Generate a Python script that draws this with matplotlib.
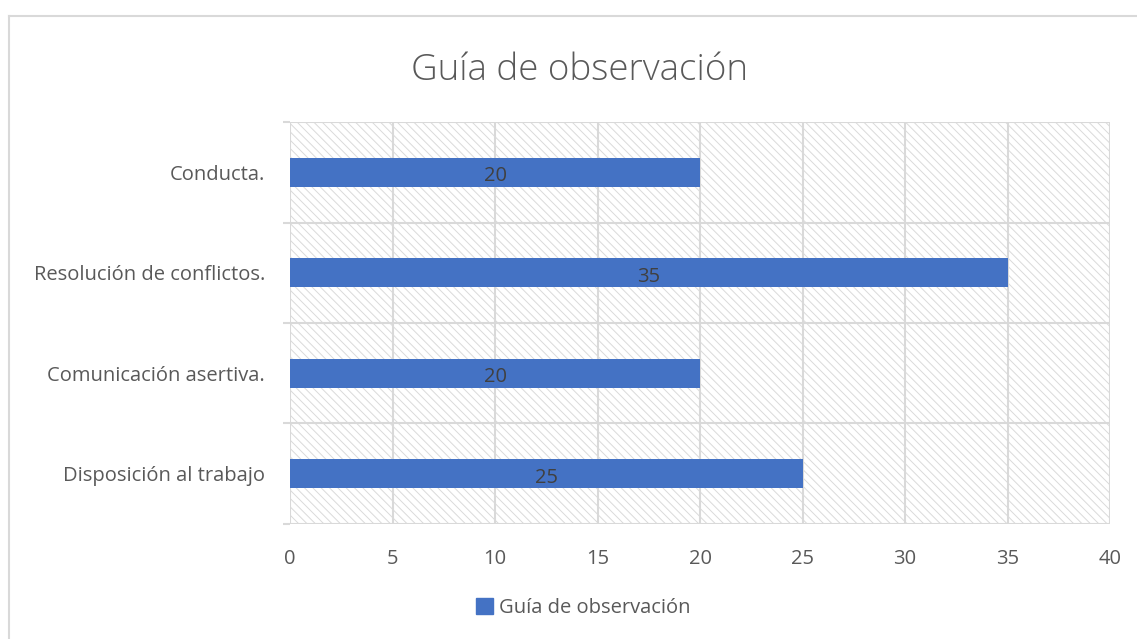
import matplotlib.pyplot as plt
from matplotlib.patches import Rectangle
from matplotlib.lines import Line2D

plt.rcParams['font.family'] = ['Open Sans', 'DejaVu Sans']
plt.rcParams['hatch.linewidth'] = 0.7

# data
categories = ['Disposición al trabajo', 'Comunicación asertiva.',
              'Resolución de conflictos.', 'Conducta.']
values = [25, 20, 35, 20]
x_ticks = [0, 5, 10, 15, 20, 25, 30, 35, 40]
series_name = 'Guía de observación'

bar_color = '#4472C4'
text_color = '#595959'
grid_color = '#d9d9d9'

fig = plt.figure(figsize=(11.37, 6.39), dpi=100)
ax = fig.add_axes([0.2551, 0.18, 0.7212, 0.629])

# chart border (left and top visible)
fig.add_artist(Line2D([9 / 1137, 9 / 1137], [0, 1 - 16 / 639],
                      transform=fig.transFigure, color=grid_color, lw=1.5))
fig.add_artist(Line2D([9 / 1137, 1], [1 - 16 / 639, 1 - 16 / 639],
                      transform=fig.transFigure, color=grid_color, lw=1.5))

# hatched plot background
ax.add_patch(Rectangle((0, 0), 1, 1, transform=ax.transAxes, facecolor='white',
                       edgecolor='#dadada', hatch='\\\\\\\\', lw=0, zorder=0))

y = list(range(len(categories)))
bars = ax.barh(y, values, height=0.29, color=bar_color, zorder=3)
for yi, v in zip(y, values):
    ax.text(v / 2, yi - 0.04, str(v), ha='center', va='center',
            fontsize=14.5, color='#404040', zorder=4)

ax.set_xlim(0, 40)
ax.set_ylim(-0.5, len(categories) - 0.5)
ax.set_xticks(x_ticks)
ax.set_yticks(y)
ax.set_yticklabels(categories)
ax.set_yticks([i - 0.5 for i in range(len(categories) + 1)], minor=True)

ax.tick_params(axis='x', length=0, labelsize=14.5, labelcolor=text_color, pad=18)
ax.tick_params(axis='y', which='major', length=0, labelsize=14.5,
               labelcolor=text_color, pad=18)
ax.tick_params(axis='y', which='minor', length=5, color=grid_color, width=1.5)

ax.grid(axis='x', which='major', color=grid_color, lw=1.5, zorder=1)
ax.grid(axis='y', which='minor', color=grid_color, lw=1.5, zorder=1)
ax.set_axisbelow(True)
for s in ax.spines.values():
    s.set_visible(False)

fig.text(0.51, 1 - 70 / 639, 'Guía de observación', ha='center', va='center',
         fontsize=26.5, color=text_color, fontweight='light')

fig.legend([Rectangle((0, 0), 1, 1, color=bar_color)], [series_name],
           loc='center', bbox_to_anchor=(0.513, 1 - 608 / 639), frameon=False,
           fontsize=14.5, labelcolor=text_color, handlelength=0.8,
           handleheight=0.8, handletextpad=0.3)

fig.savefig('out.png', dpi=100)
